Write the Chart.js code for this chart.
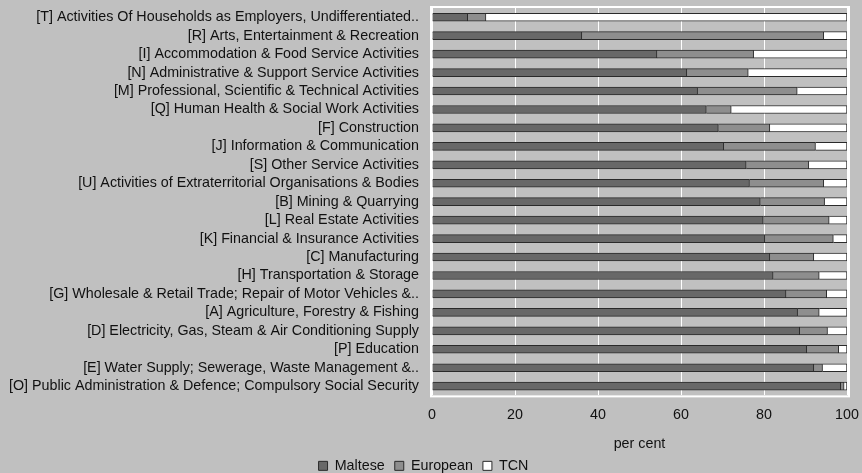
<!DOCTYPE html>
<html>
<head>
<meta charset="utf-8">
<script src="https://cdn.jsdelivr.net/npm/chart.js@4"></script>
<style>
  body { margin: 0; background: #c0c0c0; overflow: hidden; }
  #wrap { width: 862px; height: 483px; }
</style>
</head>
<body>
<div id="wrap"><canvas id="chart"></canvas></div>
<script>
const categories = [
  '[T] Activities Of Households as Employers, Undifferentiated..',
  '[R] Arts, Entertainment & Recreation',
  '[I] Accommodation & Food Service Activities',
  '[N] Administrative & Support Service Activities',
  '[M] Professional, Scientific & Technical Activities',
  '[Q] Human Health & Social Work Activities',
  '[F] Construction',
  '[J] Information & Communication',
  '[S] Other Service Activities',
  '[U] Activities of Extraterritorial Organisations & Bodies',
  '[B] Mining & Quarrying',
  '[L] Real Estate Activities',
  '[K] Financial & Insurance Activities',
  '[C] Manufacturing',
  '[H] Transportation & Storage',
  '[G] Wholesale & Retail Trade; Repair of Motor Vehicles &..',
  '[A] Agriculture, Forestry & Fishing',
  '[D] Electricity, Gas, Steam & Air Conditioning Supply',
  '[P] Education',
  '[E] Water Supply; Sewerage, Waste Management &..',
  '[O] Public Administration & Defence; Compulsory Social Security'
];
const maltese  = [8.6, 36.1, 54.2, 61.4, 64.0, 66.1, 69.0, 70.3, 75.7, 76.5, 79.1, 79.8, 80.2, 81.4, 82.2, 85.3, 88.1, 88.6, 90.3, 92.0, 98.5];
const european = [4.4, 58.3, 23.3, 14.8, 24.0, 6.0, 12.4, 22.1, 15.1, 17.9, 15.5, 15.9, 16.5, 10.6, 11.1, 9.8, 5.2, 6.7, 7.7, 2.1, 0.8];
const tcn      = [87.0, 5.6, 22.5, 23.8, 12.0, 27.9, 18.6, 7.6, 9.2, 5.6, 5.4, 4.3, 3.3, 8.0, 6.7, 4.9, 6.7, 4.7, 2.0, 5.9, 0.7];
const xTicks = [0, 20, 40, 60, 80, 100];

Chart.defaults.font.family = '"Liberation Sans", Arial, sans-serif';
Chart.defaults.font.size = 14.3;
Chart.defaults.color = '#111';

// white frame round the plot area
const frame = {
  id: 'frame',
  beforeDatasetsDraw(chart) {
    const { ctx, chartArea: a } = chart;
    ctx.save();
    ctx.strokeStyle = '#ffffff';
    ctx.lineWidth = 2;
    ctx.strokeRect(a.left - 1, a.top - 1, a.right - a.left + 3, a.bottom - a.top + 2);
    ctx.restore();
  }
};

new Chart(document.getElementById('chart'), {
  type: 'bar',
  data: {
    labels: categories,
    datasets: [
      { label: 'Maltese', data: maltese, backgroundColor: '#686868', borderColor: '#2a2a2a', borderWidth: 1, barThickness: 8 },
      { label: 'European', data: european, backgroundColor: '#8e8e8e', borderColor: '#2a2a2a', borderWidth: 1, barThickness: 8 },
      { label: 'TCN', data: tcn, backgroundColor: '#ffffff', borderColor: '#2a2a2a', borderWidth: 1, barThickness: 8 }
    ]
  },
  options: {
    indexAxis: 'y',
    responsive: true,
    maintainAspectRatio: false,
    animation: false,
    layout: { padding: { top: 8, right: 15, left: 0, bottom: 0 } },
    scales: {
      x: {
        stacked: true,
        min: 0,
        max: 100,
        afterBuildTicks: (scale) => { scale.ticks = xTicks.map(v => ({ value: v })); },
        afterFit: (scale) => { scale.paddingRight = 0; scale.paddingLeft = 0; },
        ticks: { padding: 11 },
        grid: { color: '#ffffff', lineWidth: 1, drawTicks: false },
        border: { display: false },
        title: { display: true, text: 'per cent', padding: { top: 1, bottom: -4 } }
      },
      y: {
        stacked: true,
        afterFit: (scale) => { scale.width = 432; scale.paddingTop = 0; scale.paddingBottom = 0; },
        ticks: { padding: 5, autoSkip: false },
        grid: { display: false },
        border: { display: false }
      }
    },
    plugins: {
      legend: {
        position: 'bottom',
        labels: { boxWidth: 9, boxHeight: 9, padding: 10, color: '#111' }
      },
      tooltip: { enabled: false }
    }
  },
  plugins: [frame]
});
</script>
</body>
</html>
